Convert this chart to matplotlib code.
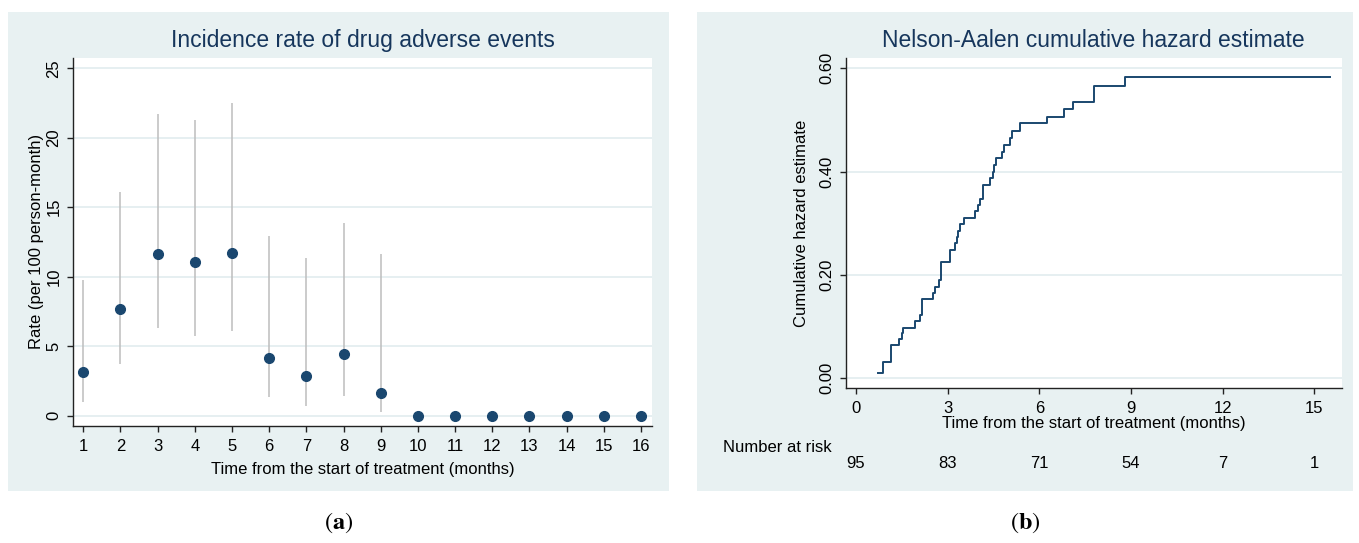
import matplotlib
matplotlib.use('Agg')
import matplotlib.pyplot as plt
from matplotlib.patches import Rectangle
from matplotlib.transforms import blended_transform_factory

plt.rcParams.update({
    'font.family': ['Liberation Sans', 'DejaVu Sans'],
    'font.size': 12,
    'mathtext.fontset': 'stix',
    'axes.linewidth': 1.0,
    'axes.edgecolor': '#222222',
    'axes.spines.top': False,
    'axes.spines.right': False,
    'xtick.direction': 'out',
    'ytick.direction': 'out',
})

# ── Data: (a) incidence rate per month ──
months = list(range(1, 17))
rate = [3.17, 7.68, 11.66, 11.08, 11.68, 4.17, 2.83, 4.46, 1.61,
        0, 0, 0, 0, 0, 0, 0]
ci_low = [1.0, 3.7, 6.29, 5.76, 6.09, 1.37, 0.72, 1.44, 0.24]
ci_high = [9.77, 16.07, 21.69, 21.28, 22.48, 12.96, 11.37, 13.84, 11.64]

# ── Data: (b) Nelson-Aalen cumulative hazard ──
na_time = [0.73, 0.89, 1.13, 1.40, 1.51, 1.55, 1.92, 2.09, 2.17, 2.51,
           2.59, 2.73, 2.77, 3.08, 3.24, 3.30, 3.35, 3.40, 3.53, 3.89,
           4.00, 4.06, 4.15, 4.39, 4.47, 4.52, 4.58, 4.79, 4.84, 5.04,
           5.09, 5.37, 6.24, 6.81, 7.11, 7.77, 8.80, 15.5]
na_haz = [0.011, 0.032, 0.065, 0.076, 0.087, 0.098, 0.110, 0.122, 0.154, 0.166,
          0.177, 0.190, 0.226, 0.248, 0.261, 0.274, 0.286, 0.299, 0.311, 0.323,
          0.335, 0.348, 0.374, 0.387, 0.400, 0.413, 0.426, 0.439, 0.452, 0.466,
          0.479, 0.494, 0.506, 0.521, 0.535, 0.566, 0.583, 0.583]
risk_times = [0, 3, 6, 9, 12, 15]
at_risk = [95, 83, 71, 54, 7, 1]

BG = '#E8F1F2'
GRID = '#E6EFF1'
NAVY = '#1A476F'
TITLE = '#16365C'

W, H = 1359, 543
fig = plt.figure(figsize=(W / 100, H / 100), dpi=100)
fig.patch.set_facecolor('white')

# panel backgrounds (Stata s2color style)
for x0, x1 in [(8, 669), (697, 1353)]:
    fig.patches.append(Rectangle((x0 / W, 1 - 491 / H), (x1 - x0) / W, 479 / H,
                                 transform=fig.transFigure, facecolor=BG,
                                 edgecolor='none', zorder=-10))

ax1 = fig.add_axes([73.3 / W, 1 - 425.7 / H, 578.4 / W, 368 / H])
ax2 = fig.add_axes([845.7 / W, 1 - 388.3 / H, 496 / W, 330.3 / H])

for ax in (ax1, ax2):
    ax.set_facecolor('white')
    ax.set_axisbelow(True)
    ax.grid(True, axis='y', color=GRID, linewidth=1.4)
    ax.tick_params(length=4.5, width=1.0, color='#222222', labelsize=12)
    ax.tick_params(axis='x', pad=5)
    ax.tick_params(axis='y', pad=4)

# ── (a) ──
ax1.vlines(months[:len(ci_low)], ci_low, ci_high, color='#BDBDBD', linewidth=1.1, zorder=2)
ax1.plot(months, rate, 'o', color=NAVY, markersize=7, zorder=3, clip_on=False)
ax1.set_xlim(0.731, 16.29)
ax1.set_ylim(-0.72, 25.76)
ax1.set_xticks(months)
ax1.set_yticks([0, 5, 10, 15, 20, 25])
for lab in ax1.get_yticklabels():
    lab.set_rotation(90)
    lab.set_va('center')
ax1.set_title('Incidence rate of drug adverse events', color=TITLE, fontsize=16.5, pad=8)
ax1.set_xlabel('Time from the start of treatment (months)', va='center')
ax1.xaxis.set_label_coords(0.5, -0.120)
ax1.set_ylabel('Rate (per 100 person-month)', va='center')
ax1.yaxis.set_label_coords(-0.063, 0.5)

# ── (b) ──
ax2.step(na_time, na_haz, where='post', color=NAVY, linewidth=1.4, zorder=3)
ax2.set_xlim(-0.337, 15.89)
ax2.set_ylim(-0.0194, 0.62)
ax2.set_xticks(risk_times)
ax2.set_yticks([0, 0.2, 0.4, 0.6])
ax2.set_yticklabels(['0.00', '0.20', '0.40', '0.60'])
for lab in ax2.get_yticklabels():
    lab.set_rotation(90)
    lab.set_va('center')
ax2.set_title('Nelson-Aalen cumulative hazard estimate', color=TITLE, fontsize=16.5, pad=8)
ax2.set_xlabel('Time from the start of treatment (months)', va='center')
ax2.xaxis.set_label_coords(0.5, -0.108)
ax2.set_ylabel('Cumulative hazard estimate', va='center')
ax2.yaxis.set_label_coords(-0.090, 0.5)

# number at risk table
tr = blended_transform_factory(ax2.transData, fig.transFigure)
fig.text(723 / W, 1 - 447 / H, 'Number at risk', ha='left', va='center', fontsize=12)
for t, n in zip(risk_times, at_risk):
    ax2.text(t, 1 - 464 / H, str(n), transform=tr, ha='center', va='center',
             fontsize=12, clip_on=False)

# panel captions
fig.text(339 / W, 1 - 523 / H, r'$(\mathbf{a})$', ha='center', va='center', fontsize=17.5)
fig.text(1025 / W, 1 - 523 / H, r'$(\mathbf{b})$', ha='center', va='center', fontsize=17.5)

fig.savefig('out.png', dpi=100, facecolor='white')
